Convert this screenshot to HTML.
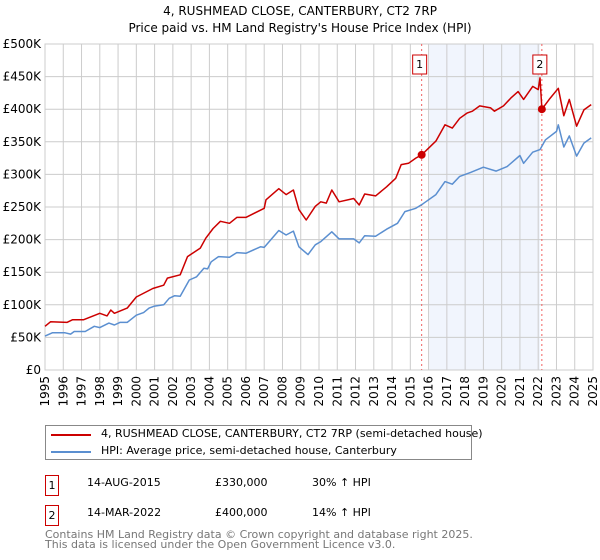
<!DOCTYPE html>
<html><head><meta charset="utf-8"><style>
body{margin:0;background:#fff;font-family:"DejaVu Sans","Liberation Sans",sans-serif;}
#wrap{position:relative;width:600px;height:560px;overflow:hidden}
.t{position:absolute;font-size:12px;color:#000;white-space:nowrap}
</style></head><body><div id="wrap">
<svg id="chart" width="600" height="420" style="position:absolute;left:0;top:0" font-family="DejaVu Sans, Liberation Sans, sans-serif">
<text x="300" y="15" text-anchor="middle" font-size="12">4, RUSHMEAD CLOSE, CANTERBURY, CT2 7RP</text>
<text x="300" y="32" text-anchor="middle" font-size="12">Price paid vs. HM Land Registry's House Price Index (HPI)</text>
</svg>
<div style="position:absolute;left:45px;top:425px;width:427px;height:35px;border:1px solid #888;box-sizing:border-box">
<div style="position:absolute;left:5px;top:8px;width:40px;height:2px;background:#cc0000"></div>
<div class="t" style="left:55px;top:1px;font-size:11px">4, RUSHMEAD CLOSE, CANTERBURY, CT2 7RP (semi-detached house)</div>
<div style="position:absolute;left:5px;top:25px;width:40px;height:2px;background:#5b8fd0"></div>
<div class="t" style="left:55px;top:18px;font-size:11px">HPI: Average price, semi-detached house, Canterbury</div>
</div>
<div>
<div class="t" style="left:45px;top:475px;width:12px;height:19px;border:1px solid #cc0000;text-align:center;line-height:19px;font-size:11px">1</div>
<div class="t" style="left:87px;top:476px;font-size:11px">14-AUG-2015</div>
<div class="t" style="left:215px;top:476px;font-size:11px">£330,000</div>
<div class="t" style="left:312px;top:476px;font-size:11px">30% ↑ HPI</div>
</div>
<div>
<div class="t" style="left:45px;top:505px;width:12px;height:19px;border:1px solid #cc0000;text-align:center;line-height:19px;font-size:11px">2</div>
<div class="t" style="left:87px;top:506px;font-size:11px">14-MAR-2022</div>
<div class="t" style="left:215px;top:506px;font-size:11px">£400,000</div>
<div class="t" style="left:312px;top:506px;font-size:11px">14% ↑ HPI</div>
</div>
<div class="t" style="left:45px;top:530px;font-size:11px;color:#777;line-height:10px">Contains HM Land Registry data © Crown copyright and database right 2025.<br>This data is licensed under the Open Government Licence v3.0.</div>
</div>
<script>
const yTicks=[0,50,100,150,200,250,300,350,400,450,500];
const yTickLabels=["£0","£50K","£100K","£150K","£200K","£250K","£300K","£350K","£400K","£450K","£500K"];
const xYears=[1995,1996,1997,1998,1999,2000,2001,2002,2003,2004,2005,2006,2007,2008,2009,2010,2011,2012,2013,2014,2015,2016,2017,2018,2019,2020,2021,2022,2023,2024,2025];
const redT=[1995.0,1995.3,1996.2,1996.5,1997.1,1998.0,1998.4,1998.6,1998.8,1999.5,2000.0,2000.9,2001.5,2001.7,2002.4,2002.8,2003.5,2003.8,2004.2,2004.6,2005.1,2005.5,2006.0,2007.0,2007.1,2007.8,2008.2,2008.6,2008.9,2009.3,2009.8,2010.1,2010.4,2010.7,2011.1,2011.9,2012.2,2012.5,2013.1,2013.7,2014.2,2014.5,2014.9,2015.3,2015.62,2016.4,2016.9,2017.3,2017.7,2018.1,2018.4,2018.8,2019.4,2019.6,2020.1,2020.5,2020.9,2021.2,2021.7,2022.0,2022.1,2022.2,2022.6,2023.1,2023.4,2023.7,2024.1,2024.5,2024.9];
const redV=[67,74,73,77,77,87,83,92,87,95,112,125,130,141,146,174,187,202,217,228,225,234,234,248,261,278,269,276,246,230,251,258,256,276,258,263,253,270,267,281,294,315,317,325,330,351,376,371,386,394,397,405,402,397,405,417,427,415,435,430,448,400,415,432,390,415,374,399,407];
const blueT=[1995.0,1995.4,1996.1,1996.4,1996.6,1997.2,1997.7,1998.0,1998.5,1998.8,1999.1,1999.5,2000.0,2000.4,2000.7,2001.0,2001.5,2001.8,2002.1,2002.4,2002.9,2003.3,2003.7,2003.9,2004.1,2004.5,2005.1,2005.5,2006.0,2006.8,2007.0,2007.8,2008.2,2008.6,2008.9,2009.4,2009.8,2010.1,2010.7,2011.1,2011.9,2012.2,2012.5,2013.1,2013.7,2014.3,2014.7,2015.3,2015.7,2016.4,2016.9,2017.3,2017.7,2018.3,2019.0,2019.7,2020.3,2021.0,2021.2,2021.7,2022.1,2022.4,2023.0,2023.1,2023.4,2023.7,2024.1,2024.5,2024.9];
const blueV=[52,57,57,55,59,59,67,65,72,69,73,73,84,88,95,98,100,110,114,113,138,143,156,155,166,174,173,180,179,189,188,214,207,213,189,177,192,197,212,201,201,195,206,205,216,225,243,248,255,269,289,285,297,303,311,305,312,329,317,334,338,353,366,376,342,359,328,348,356];
const saleT=[2015.62,2022.2];
const saleV=[330,400];
const saleLabels=["1","2"];
const shadeRange=[2016.05,2022.1];

const L=45,R=593,T=44,B=370;
const xs=t=>L+(t-1995)/30*(R-L);
const ys=v=>B-v/500*(B-T);
const svg=document.getElementById('chart');
const NS='http://www.w3.org/2000/svg';
function mk(tag,attrs){const e=document.createElementNS(NS,tag);for(const k in attrs)e.setAttribute(k,attrs[k]);svg.appendChild(e);return e;}
let e;
e=mk('rect',{x:xs(shadeRange[0]),y:T,width:xs(shadeRange[1])-xs(shadeRange[0]),height:B-T,fill:'#eef3fc',opacity:0.8});


yTicks.forEach((v,i)=>{
 e=mk('line',{x1:L,x2:R,y1:ys(v),y2:ys(v),stroke:'#ccc','stroke-width':1});
 
 
 e=mk('text',{x:L-4,y:ys(v)+4,'text-anchor':'end','font-size':12});
 e.textContent=yTickLabels[i];
 
 
});
xYears.forEach(yr=>{
 e=mk('line',{x1:xs(yr),x2:xs(yr),y1:T,y2:B,stroke:'#ccc','stroke-width':1});
 
 
 e=mk('text',{x:0,y:0,'text-anchor':'end','font-size':12,transform:`translate(${xs(yr)+4},${B+6}) rotate(-90)`});
 e.textContent=yr;
 
 
});
e=mk('rect',{x:L,y:T,width:R-L,height:B-T,fill:'none',stroke:'#ccc'});


saleT.forEach((t,i)=>{
 e=mk('line',{x1:xs(t),x2:xs(t),y1:T,y2:B,stroke:'#f06060','stroke-dasharray':'2,3','stroke-width':1});
 
 
});
function path(ts,vs){return ts.map((t,i)=>(i?'L':'M')+xs(t).toFixed(1)+','+ys(vs[i]).toFixed(1)).join(' ');}
e=mk('path',{d:path(blueT,blueV),fill:'none',stroke:'#5b8fd0','stroke-width':1.5,'stroke-linejoin':'round'});


e=mk('path',{d:path(redT,redV),fill:'none',stroke:'#cc0000','stroke-width':1.5,'stroke-linejoin':'round'});


saleT.forEach((t,i)=>{
 e=mk('circle',{cx:xs(t),cy:ys(saleV[i]),r:4,fill:'#cc0000'});
 
 
 e=mk('rect',{x:xs(t)-9,y:55,width:14,height:19,fill:'#fff',stroke:'#cc0000'});
 
 
 e=mk('text',{x:xs(t)-2,y:68,'text-anchor':'middle','font-size':11});
 e.textContent=saleLabels[i];
 
 
});
</script>
</body></html>
